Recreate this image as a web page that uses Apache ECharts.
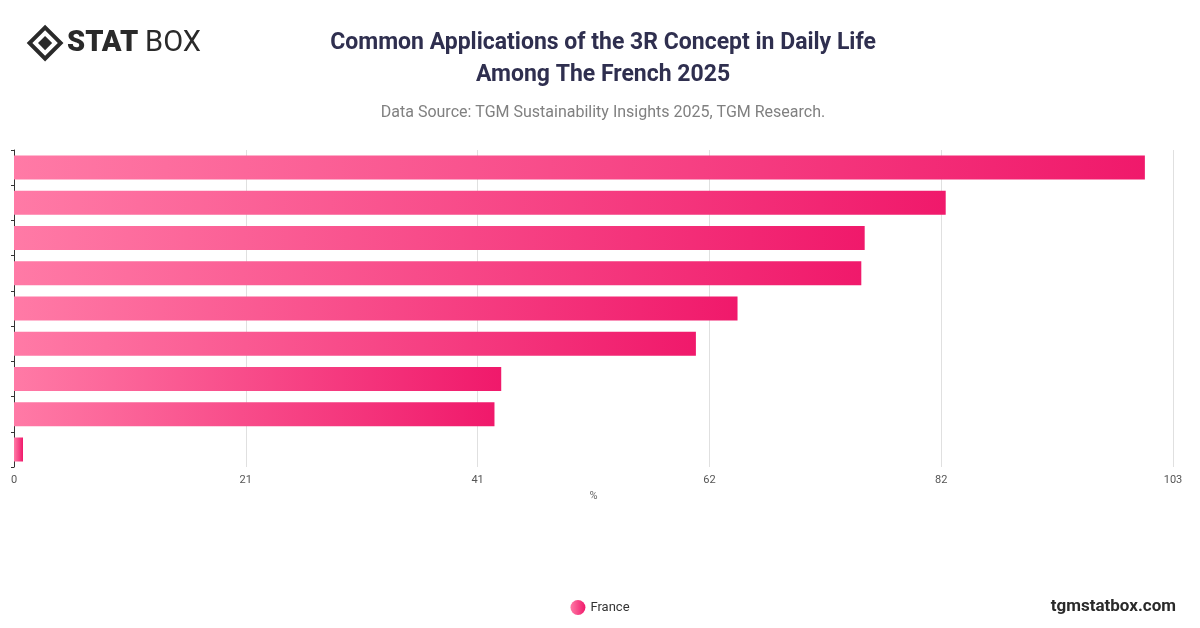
<!DOCTYPE html>
<html>
<head>
<meta charset="utf-8">
<script src="https://cdn.jsdelivr.net/npm/echarts@6/dist/echarts.min.js"></script>
<style>
html, body { margin: 0; padding: 0; background: #fff; }
#chart { width: 1200px; height: 628px; }
</style>
</head>
<body>
<div id="chart"></div>
<script>
// categories are not printed on the reference, kept for tooltip only
var categories = ['Recycling', 'Reusing bags', 'Reducing plastic', 'Reusing containers', 'Repairing items', 'Buying second-hand', 'Composting', 'Donating items', 'Other'];
var franceValues = [100.5, 82.8, 75.6, 75.3, 64.3, 60.6, 43.3, 42.7, 0.8];
var axisMax = 103;

var chartDom = document.getElementById('chart');
var chartInstance = echarts.init(chartDom);

var barColor = new echarts.graphic.LinearGradient(0, 0, 1, 0, [
    { offset: 0, color: '#ff7aa6' },
    { offset: 1, color: '#f0196b' }
]);

var chartOption = {
    textStyle: { fontFamily: 'Roboto, sans-serif' },
    title: {
        text: 'Common Applications of the 3R Concept in Daily Life\nAmong The French 2025',
        subtext: 'Data Source: TGM Sustainability Insights 2025, TGM Research.',
        left: 598,
        textAlign: 'center',
        top: 22,
        itemGap: 14,
        textStyle: { fontSize: 23, fontWeight: 'bold', color: '#2f2f4f', lineHeight: 32 },
        subtextStyle: { fontSize: 16, color: '#808080' }
    },
    graphic: [
        {
            type: 'group', left: 26, top: 24,
            children: [
                { type: 'rect', shape: { x: 7, y: 0, width: 22, height: 22 }, rotation: Math.PI / 4, originX: 18, originY: 11,
                  style: { fill: 'none', stroke: '#2a2a2a', lineWidth: 4 } },
                { type: 'rect', shape: { x: 13, y: 6, width: 10, height: 10 }, rotation: Math.PI / 4, originX: 18, originY: 11,
                  style: { fill: '#2a2a2a' } },
                { type: 'text', left: 40, top: -3, style: { text: 'STAT', fill: '#2a2a2a', font: '900 29px Roboto' } },
                { type: 'text', left: 118, top: -3, style: { text: 'BOX', fill: '#2a2a2a', font: '400 29px Roboto' } }
            ]
        },
        { type: 'text', right: 24, top: 598, style: { text: 'tgmstatbox.com', fill: '#2a2a2a', font: 'bold 17px Roboto' } }
    ],
    legend: {
        data: ['France'],
        bottom: 8,
        left: 'center',
        icon: 'circle',
        itemWidth: 15,
        itemHeight: 15,
        textStyle: { fontSize: 13, color: '#333' }
    },
    grid: { left: 14, right: 27, top: 150, bottom: 161, containLabel: false },
    xAxis: {
        type: 'value',
        min: 0,
        max: axisMax,
        interval: axisMax / 5,
        name: '%',
        nameLocation: 'middle',
        nameGap: 22,
        nameTextStyle: { fontSize: 11, color: '#666' },
        axisLabel: { fontSize: 11, color: '#555', formatter: function (v) { return Math.round(v); } },
        splitLine: { lineStyle: { color: '#e0e0e0' } },
        axisLine: { show: false },
        axisTick: { show: false }
    },
    yAxis: {
        type: 'category',
        data: categories,
        inverse: true,
        axisLabel: { show: false },
        axisLine: { lineStyle: { color: '#333' } },
        axisTick: { show: true, length: 3, lineStyle: { color: '#333' } }
    },
    tooltip: { trigger: 'axis' },
    series: [
        {
            name: 'France',
            type: 'bar',
            data: franceValues,
            barWidth: 24,
            itemStyle: { color: barColor }
        }
    ]
};

chartInstance.setOption(chartOption);
</script>
</body>
</html>
